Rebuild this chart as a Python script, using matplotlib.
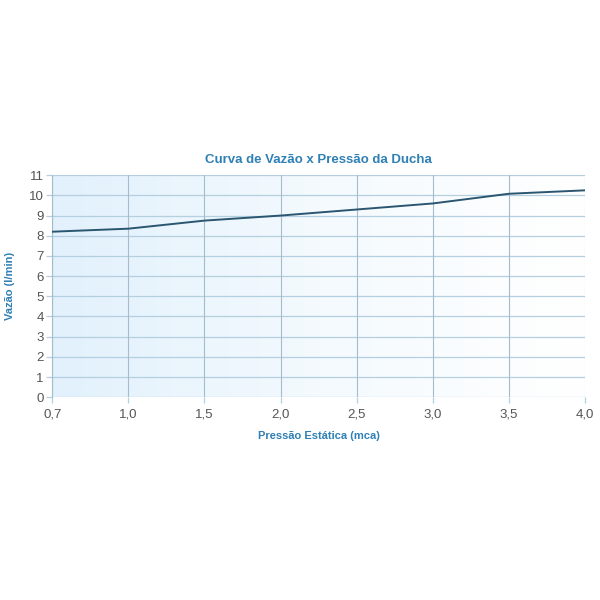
import numpy as np
import matplotlib.pyplot as plt

plt.rcParams['font.family'] = ['Liberation Sans', 'DejaVu Sans']

# dados da curva
pressao = ['0,7', '1,0', '1,5', '2,0', '2,5', '3,0', '3,5', '4,0']
vazao = [8.2, 8.35, 8.75, 9.0, 9.3, 9.6, 10.08, 10.25]
y_ticks = list(range(0, 12))

azul = '#2f80b4'

fig = plt.figure(figsize=(6, 6), dpi=100)
ax = fig.add_axes([0.087, 0.338, 0.888, 0.37])

# fundo em degrade
grad = np.linspace(0, 1, 256).reshape(1, -1)
cmap = plt.matplotlib.colors.LinearSegmentedColormap.from_list('bg', ['#e2f1fc', '#f4fafe', '#ffffff'])
ax.imshow(grad, extent=[0, 1, 0, 1], transform=ax.transAxes, cmap=cmap,
          aspect='auto', zorder=0)

x = np.arange(len(pressao))
ax.plot(x, vazao, color='#2a5670', lw=1.4, zorder=3)

ax.set_xlim(0, len(pressao) - 1)
ax.set_ylim(0, 11)
ax.set_xticks(x)
ax.set_xticklabels(pressao)
ax.set_yticks(y_ticks)

for yv in y_ticks:
    ax.axhline(yv, color='#b3cfe0', lw=0.9, zorder=1)
for xv in x:
    ax.axvline(xv, color='#a6bccb', lw=0.8, zorder=1)

for s in ax.spines.values():
    s.set_visible(False)
ax.spines['left'].set_visible(True)
ax.spines['left'].set_color('#a6bccb')

ax.tick_params(axis='both', colors='#b3cfe0', labelcolor='#555555', labelsize=9.5, length=4, width=0.9)
ax.tick_params(axis='x', pad=4)
ax.tick_params(axis='y', pad=2)

ax.set_title('Curva de Vazão x Pressão da Ducha', color=azul, fontsize=9.5,
             fontweight='bold', pad=9)
ax.set_xlabel('Pressão Estática (mca)', color=azul, fontsize=8, fontweight='bold', labelpad=8)
ax.set_ylabel('Vazão (l/min)', color=azul, fontsize=8, fontweight='bold', labelpad=10)

fig.savefig('out.png', dpi=100, facecolor='white')
